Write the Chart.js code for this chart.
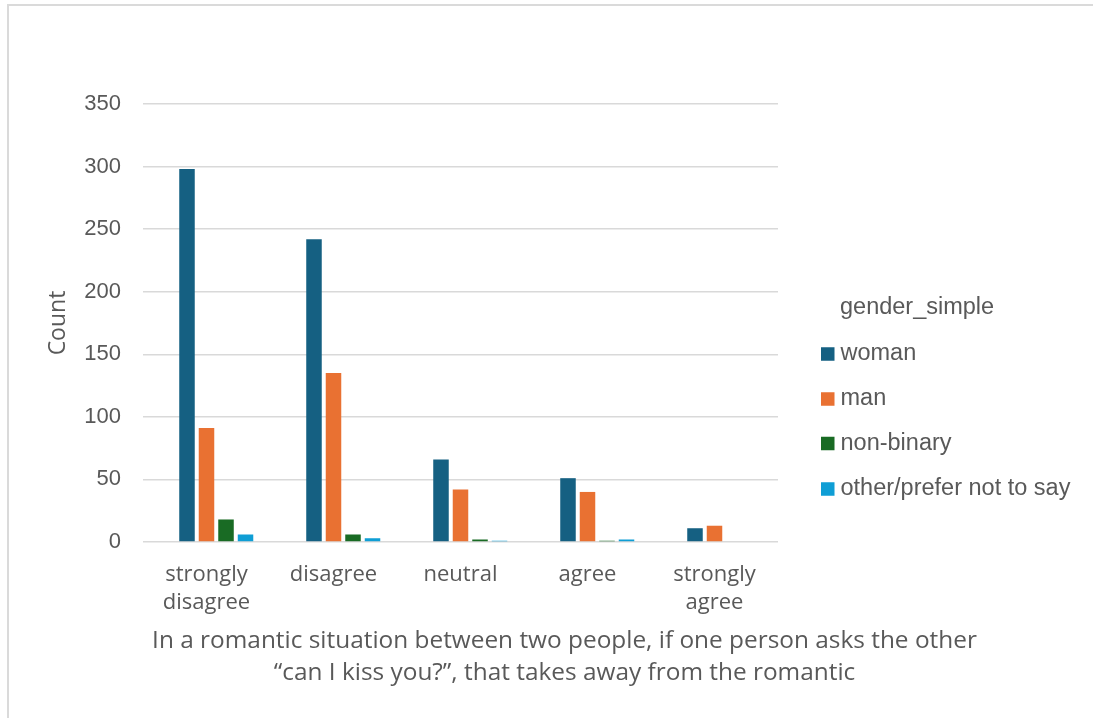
<!DOCTYPE html>
<html>
<head>
<meta charset="utf-8">
<script src="https://cdn.jsdelivr.net/npm/chart.js@4.4.1/dist/chart.umd.min.js"></script>
<style>
  html, body { margin: 0; padding: 0; background: #ffffff; overflow: hidden; width: 1093px; height: 718px; }
  #frame {
    position: absolute; left: 7px; top: 4px;
    width: 1084px; height: 714px; overflow: hidden;
    border-left: 2px solid #dadada; border-top: 2px solid #dadada;
    background: #ffffff;
  }
  #chart { display: block; }
</style>
</head>
<body>
<div id="frame"><canvas id="chart" width="1111" height="730"></canvas></div>
<script>
// Responses to: "can I kiss you?" takes away from the romantic
const categories = [['strongly', 'disagree'], 'disagree', 'neutral', ['agree'], ['strongly', 'agree']];
const seriesNames = ['woman', 'man', 'non-binary', 'other/prefer not to say'];
const blankCounts = [null, null, null, null, null]; // empty "(blank)" group slot
const womanCounts = [298, 242, 66, 51, 11];
const manCounts = [91, 135, 42, 40, 13];
const nonBinaryCounts = [18, 6, 2, 1, 0];
const otherCounts = [6, 3, 1, 2, 0];
const yTicks = [0, 50, 100, 150, 200, 250, 300, 350];
const legendTitle = 'gender_simple';
const yTitle = 'Count';
const xTitleLines = [
  'In a romantic situation between two people, if one person asks the other',
  '\u201Ccan I kiss you?\u201D, that takes away from the romantic'
];

const colors = ['#156082', '#E97132', '#196B24', '#0F9ED5'];
const textColor = '#595959';

const datasets = [
  { label: '(blank)', data: blankCounts, backgroundColor: '#ffffff', hiddenFromLegend: true },
  { label: seriesNames[0], data: womanCounts, backgroundColor: colors[0] },
  { label: seriesNames[1], data: manCounts, backgroundColor: colors[1] },
  { label: seriesNames[2], data: nonBinaryCounts, backgroundColor: colors[2] },
  { label: seriesNames[3], data: otherCounts, backgroundColor: colors[3] }
].map(d => Object.assign({ borderWidth: 0, categoryPercentage: 0.768, barPercentage: 0.795 }, d));

// Legend on the right and the two-line axis caption underneath
const sideText = {
  id: 'sideText',
  afterDraw(chart) {
    const ctx = chart.ctx;
    ctx.save();
    ctx.fillStyle = textColor;
    ctx.textBaseline = 'middle';
    ctx.textAlign = 'left';
    ctx.font = '23.5px "Liberation Sans", Arial, sans-serif';
    ctx.fillText(legendTitle, 831, 302);
    const rowY = [348, 393, 437.5, 483];
    chart.data.datasets.filter(d => !d.hiddenFromLegend).forEach((d, i) => {
      ctx.fillStyle = d.backgroundColor;
      ctx.fillRect(812, rowY[i] - 6.75, 13.5, 13.5);
      ctx.fillStyle = textColor;
      ctx.fillText(d.label, 831.5, rowY[i]);
    });
    ctx.textAlign = 'center';
    ctx.font = '24.4px "Open Sans", sans-serif';
    xTitleLines.forEach((line, i) => {
      ctx.fillText(line, chart.width / 2, 635 + i * 32);
    });
    ctx.restore();
  }
};

new Chart(document.getElementById('chart'), {
  type: 'bar',
  data: { labels: categories, datasets },
  plugins: [sideText],
  options: {
    responsive: false,
    animation: false,
    layout: { padding: { left: 0, right: 342, top: 98, bottom: 114 } },
    plugins: { legend: { display: false }, tooltip: { enabled: false }, title: { display: false } },
    scales: {
      x: {
        grid: { display: false },
        border: { display: false },
        ticks: {
          color: textColor,
          font: { family: '"Open Sans", sans-serif', size: 22, lineHeight: 1.27 },
          padding: 11,
          maxRotation: 0,
          autoSkip: false
        },
        afterFit(s) { s.height = 80; }
      },
      y: {
        min: yTicks[0],
        max: yTicks[yTicks.length - 1],
        afterBuildTicks(s) { s.ticks = yTicks.map(v => ({ value: v })); },
        grid: { color: '#d9d9d9', lineWidth: 1.5, drawTicks: false },
        border: { display: false },
        ticks: {
          color: textColor,
          font: { family: '"Liberation Sans", Arial, sans-serif', size: 22 },
          padding: 22
        },
        title: {
          display: true,
          text: yTitle,
          color: textColor,
          font: { family: '"Open Sans", sans-serif', size: 23 },
          padding: { top: 36, bottom: 0 }
        },
        afterFit(s) { s.width = 134; }
      }
    }
  }
});
</script>
</body>
</html>
